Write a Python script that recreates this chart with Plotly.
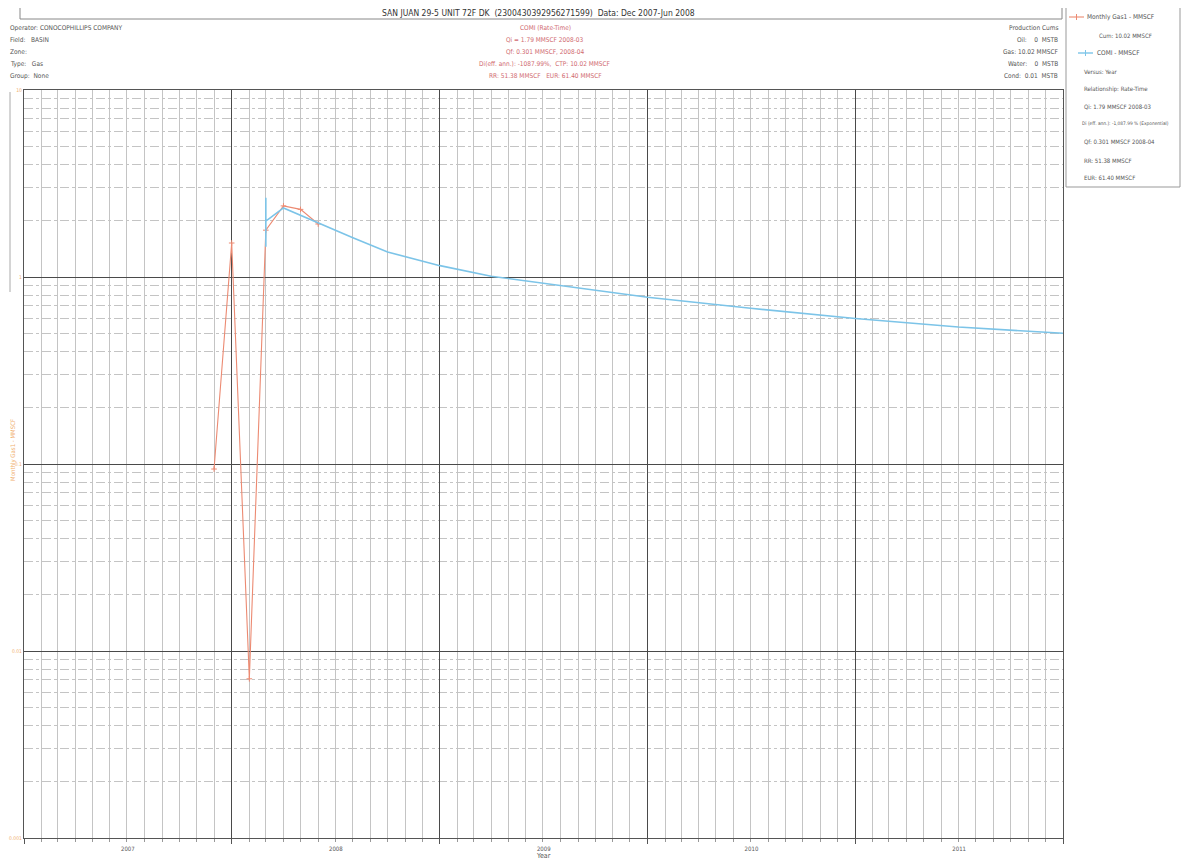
import plotly.graph_objects as go

# ---------------- data ----------------
gas_dates = ["2007-12-01", "2008-01-01", "2008-02-01", "2008-03-01",
             "2008-04-01", "2008-05-01", "2008-06-01"]
gas_values = [0.094, 1.52, 0.0071, 1.78, 2.40, 2.30, 1.92]

comi_dates = ["2008-03-01", "2008-03-01", "2008-03-01", "2008-04-01",
              "2008-06-01", "2008-08-01", "2008-10-01", "2009-01-01",
              "2009-04-01", "2009-07-01", "2010-01-01", "2010-07-01",
              "2011-01-01", "2011-07-01", "2012-01-01"]
comi_values = [2.65, 1.45, 1.99, 2.34, 1.94, 1.62, 1.36, 1.15,
               1.01, 0.93, 0.78, 0.68, 0.60, 0.54, 0.50]

title_text = "SAN JUAN 29-5 UNIT 72F DK  (2300430392956271599)  Data: Dec 2007-Jun 2008"
left_header = ["Operator: CONOCOPHILLIPS COMPANY", "Field:   BASIN", "Zone:",
               "Type:   Gas", "Group:  None"]
center_header = ["COMI (Rate-Time)", "Qi = 1.79 MMSCF 2008-03",
                 "Qf: 0.301 MMSCF, 2008-04",
                 "Di(eff. ann.): -1087.99%,  CTP: 10.02 MMSCF",
                 "RR: 51.38 MMSCF   EUR: 61.40 MMSCF"]
right_header = ["Production Cums", "Oil:    0  MSTB", "Gas: 10.02 MMSCF",
                "Water:    0  MSTB", "Cond:  0.01  MSTB"]
legend_lines = ["Cum: 10.02 MMSCF", "Versus: Year", "Relationship: Rate-Time",
                "Qi: 1.79 MMSCF 2008-03",
                "Di (eff. ann.): -1,087.99 % (Exponential)",
                "Qf: 0.301 MMSCF 2008-04", "RR: 51.38 MMSCF", "EUR: 61.40 MMSCF"]

# ---------------- layout helpers ----------------
OFF = 8  # browser body margin
W, H = 1189 - 2 * OFF, 868 - 2 * OFF
L, R, T, B = 24 - OFF, 1063 - OFF, 90 - OFF, 838 - OFF
FONT = "Liberation Sans Narrow, DejaVu Sans Condensed, Arial Narrow, sans-serif"


def px(x):
    """page x (reference pixel) -> paper coordinate"""
    return (x - OFF - L) / (R - L)


def py(y):
    return (B - (y - OFF)) / (B - T)


RED = "#ec8a72"
BLUE = "#7cc4e8"
TXT = "#555"

fig = go.Figure()
fig.add_trace(go.Scatter(x=gas_dates, y=gas_values, mode="lines+markers",
                         line=dict(color=RED, width=1.1),
                         marker=dict(symbol="cross-thin", size=4,
                                     line=dict(color=RED, width=1)),
                         name="Monthly Gas1 - MMSCF", showlegend=False))
fig.add_trace(go.Scatter(x=comi_dates, y=comi_values, mode="lines",
                         line=dict(color=BLUE, width=1.6),
                         name="COMI - MMSCF", showlegend=False))

annotations = []
shapes = []

# Title box
shapes.append(dict(type="rect", xref="paper", yref="paper",
                   x0=px(20), x1=px(1062), y0=py(19), y1=py(6),
                   line=dict(color="#888", width=1)))
annotations.append(dict(text=title_text, xref="paper", yref="paper",
                        x=px(538), y=py(12.5), showarrow=False,
                        font=dict(size=8.5, color="#333", family=FONT),
                        xanchor="center", yanchor="middle"))

for i, t in enumerate(left_header):
    annotations.append(dict(text=t, xref="paper", yref="paper",
                            x=px(8), y=py(28 + 12 * i), showarrow=False,
                            font=dict(size=6.5, color=TXT, family=FONT),
                            xanchor="left", yanchor="middle"))
for i, t in enumerate(center_header):
    annotations.append(dict(text=t, xref="paper", yref="paper",
                            x=px(545), y=py(28 + 12 * i), showarrow=False,
                            font=dict(size=6.5, color="#d06a70", family=FONT),
                            xanchor="center", yanchor="middle"))
for i, t in enumerate(right_header):
    annotations.append(dict(text=t, xref="paper", yref="paper",
                            x=px(1060), y=py(28 + 12 * i), showarrow=False,
                            font=dict(size=6.5, color=TXT, family=FONT),
                            xanchor="right", yanchor="middle"))

# Legend box
shapes.append(dict(type="rect", xref="paper", yref="paper",
                   x0=px(1066), x1=px(1180), y0=py(187), y1=py(4),
                   line=dict(color="#999", width=1)))
shapes.append(dict(type="line", xref="paper", yref="paper",
                   x0=px(1069), x1=px(1084), y0=py(17), y1=py(17),
                   line=dict(color=RED, width=1.1)))
shapes.append(dict(type="line", xref="paper", yref="paper",
                   x0=px(1076.5), x1=px(1076.5), y0=py(14), y1=py(20),
                   line=dict(color=RED, width=1)))
shapes.append(dict(type="line", xref="paper", yref="paper",
                   x0=px(1078), x1=px(1093), y0=py(53), y1=py(53),
                   line=dict(color=BLUE, width=1.4)))
shapes.append(dict(type="line", xref="paper", yref="paper",
                   x0=px(1085.5), x1=px(1085.5), y0=py(50), y1=py(56),
                   line=dict(color=BLUE, width=1)))
annotations.append(dict(text="Monthly Gas1 - MMSCF", xref="paper", yref="paper",
                        x=px(1085), y=py(17), showarrow=False,
                        font=dict(size=6.5, color=TXT, family=FONT),
                        xanchor="left", yanchor="middle"))
annotations.append(dict(text="COMI - MMSCF", xref="paper", yref="paper",
                        x=px(1095), y=py(53), showarrow=False,
                        font=dict(size=6.5, color=TXT, family=FONT),
                        xanchor="left", yanchor="middle"))
leg_y = [35, 71, 89, 107, 124, 142, 160, 177]
leg_x = [1097, 1082, 1082, 1082, 1080, 1082, 1082, 1082]
leg_size = [6, 6, 6, 6, 4.8, 6, 6, 6]
for t, yy, xx, ss in zip(legend_lines, leg_y, leg_x, leg_size):
    annotations.append(dict(text=t, xref="paper", yref="paper",
                            x=px(xx), y=py(yy), showarrow=False,
                            font=dict(size=ss, color=TXT, family=FONT),
                            xanchor="left", yanchor="middle"))

# left decorations: y axis title and side line
annotations.append(dict(text="Monthly Gas1 - MMSCF", xref="paper", yref="paper",
                        x=px(13), y=py(450), showarrow=False, textangle=-90,
                        font=dict(size=6, color="#f0b070", family=FONT),
                        xanchor="center", yanchor="middle"))
shapes.append(dict(type="line", xref="paper", yref="paper",
                   x0=px(10), x1=px(10), y0=py(92), y1=py(292),
                   line=dict(color="#aaa", width=1)))
annotations.append(dict(text="Year", xref="paper", yref="paper",
                        x=px(543), y=py(856), showarrow=False,
                        font=dict(size=7, color=TXT, family=FONT),
                        xanchor="center", yanchor="middle"))

fig.update_layout(
    width=W, height=H,
    margin=dict(l=L, r=W - R, t=T, b=H - B, autoexpand=False),
    paper_bgcolor="white", plot_bgcolor="white",
    showlegend=False,
    annotations=annotations, shapes=shapes,
    xaxis=dict(type="date", range=["2007-01-01", "2012-01-01"],
               dtick="M12", tick0="2007-01-01", tickformat="%Y",
               ticklabelmode="period", automargin=False,
               showgrid=True, gridcolor="#4a4a4a", gridwidth=1.2,
               showline=True, linecolor="#555", linewidth=1.2, mirror=True,
               ticks="outside", ticklen=5, tickcolor="#555",
               tickfont=dict(size=6, color=TXT, family=FONT),
               minor=dict(dtick="M1", showgrid=True, gridcolor="#c4c4c4",
                          gridwidth=0.8, ticks="outside", ticklen=3,
                          tickcolor="#999"),
               zeroline=False),
    yaxis=dict(type="log", range=[-3, 1], dtick=1, automargin=False,
               showgrid=True, gridcolor="#4a4a4a", gridwidth=1.2,
               showline=True, linecolor="#555", linewidth=1.2, mirror=True,
               ticks="", tickfont=dict(size=5, color="#f0b070", family=FONT),
               minor=dict(dtick="D1", showgrid=True, gridcolor="#c4c4c4",
                          griddash="dashdot", gridwidth=0.8),
               zeroline=False),
)

fig.write_html("out.html")
